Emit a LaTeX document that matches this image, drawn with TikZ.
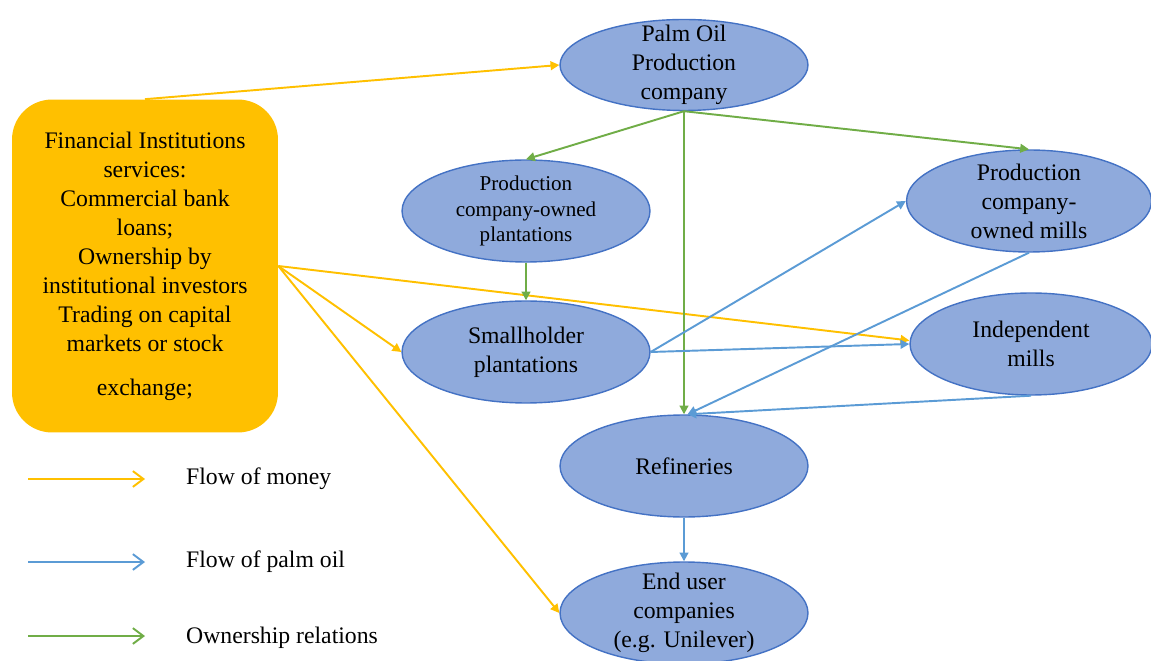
\documentclass[tikz,border=0pt]{standalone}
\usepackage{fontspec}
\setmainfont{Liberation Serif}
\usetikzlibrary{arrows.meta,positioning,shapes.geometric}
\definecolor{moneyc}{HTML}{FFC000}
\definecolor{oilc}{HTML}{5B9BD5}
\definecolor{ownc}{HTML}{70AD47}
\definecolor{ovalfill}{HTML}{8FAADC}
\definecolor{ovalline}{HTML}{4472C4}

\begin{document}
\begin{tikzpicture}[
    x=0.02cm, y=-0.02cm,
    oval/.style={ellipse, draw=ovalline, fill=ovalfill, line width=0.8pt, minimum width=4.96cm, minimum height=2.04cm, inner sep=0pt},
    txt/.style={align=center, font=\fontsize{13.5}{16.5}\selectfont},
    smalltxt/.style={align=center, font=\fontsize{12}{14.5}\selectfont},
    money/.style={-{Triangle[length=5pt,width=5pt]}, line width=1.1pt, draw=moneyc, fill=moneyc},
    oil/.style={-{Triangle[length=5pt,width=5pt]}, line width=1.1pt, draw=oilc, fill=oilc},
    own/.style={-{Triangle[length=5pt,width=5pt]}, line width=1.1pt, draw=ownc, fill=ownc},
    key/.style={-{Straight Barb[length=6pt,width=9pt]}, line width=1.1pt}
]
    \useasboundingbox (0,0) rectangle (1151,661);

    % financial institutions
    \node[rectangle, rounded corners=0.8cm, fill=moneyc, minimum width=5.32cm, minimum height=6.66cm, txt] (fin) at (145,266)
        {Financial Institutions\\services:\\Commercial bank\\loans;\\Ownership by\\institutional investors\\Trading on capital\\markets or stock\\[0.3cm]exchange;};

    % ovals
    \node[oval, minimum height=1.82cm] (poc) at (684,65) {};
    \node[txt] (poct) at (poc) {Palm Oil\\Production\\company};
    \node[oval] (plant) at (526,211) {};
    \node[smalltxt] (plantt) at (plant) {Production\\company-owned\\plantations};
    \node[oval] (small) at (526,352) {};
    \node[txt] (smallt) at (small) {Smallholder\\plantations};
    \node[oval, minimum width=4.9cm] (mills) at (1029,201) {};
    \node[txt] (millst) at (mills) {Production\\company-\\owned mills};
    \node[oval, minimum width=4.84cm] (indep) at (1031,344) {};
    \node[txt] (indept) at (indep) {Independent\\mills};
    \node[oval] (ref) at (684,466) {};
    \node[txt] (reft) at (ref) {Refineries};
    \node[oval] (enduser) at (684,613) {};
    \node[txt] (endusert) at (enduser) {End user\\companies\\(e.g. Unilever)};

    % flow of money
    \draw[money] (fin.north) -- (poc.west);
    \draw[money] (fin.east) -- (small.west);
    \draw[money] (fin.east) -- ([yshift=2pt]indep.west);
    \draw[money] (fin.east) -- (enduser.west);

    % ownership
    \draw[own] (poc.south) -- (plant.north);
    \draw[own] (poc.south) -- (ref.north);
    \draw[own] (poc.south) -- (mills.north);
    \draw[own] (plant.south) -- (small.north);

    % flow of palm oil
    \draw[oil] (small.east) -- (mills.west);
    \draw[oil] (small.east) -- (indep.west);
    \draw[oil] (mills.south) -- ([xshift=2pt]ref.north);
    \draw[oil] (indep.south) -- ([xshift=2pt]ref.north);
    \draw[oil] (ref.south) -- (enduser.north);

    % legend
    \coordinate (k1a) at (28,479);
    \coordinate (k1b) at (145,479);
    \coordinate (k2a) at (28,562);
    \coordinate (k2b) at (145,562);
    \coordinate (k3a) at (28,636);
    \coordinate (k3b) at (145,636);
    \draw[key, draw=moneyc] (k1a) -- (k1b);
    \draw[key, draw=oilc] (k2a) -- (k2b);
    \draw[key, draw=ownc] (k3a) -- (k3b);
    \node[txt, anchor=west] (k1t) at (180,479) {Flow of money};
    \node[txt, anchor=west] (k2t) at (180,562) {Flow of palm oil};
    \node[txt, anchor=west] (k3t) at (180,638) {Ownership relations};
\end{tikzpicture}
\end{document}
